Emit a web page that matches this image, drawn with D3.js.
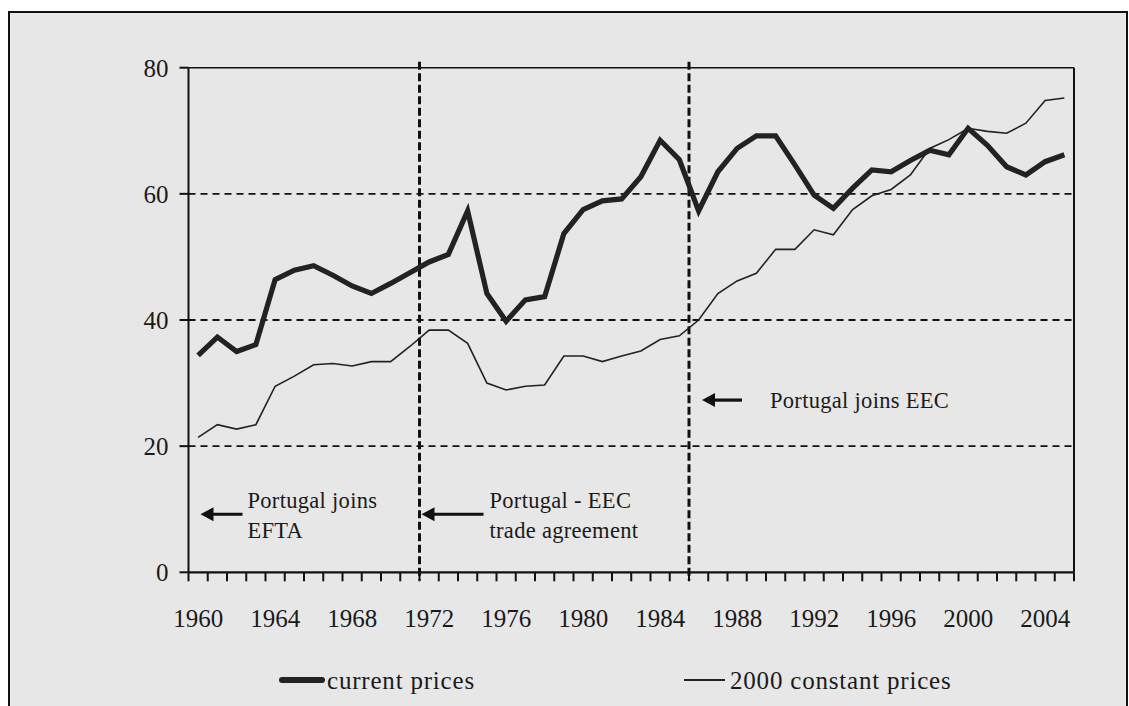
<!DOCTYPE html>
<html>
<head>
<meta charset="utf-8">
<script src="https://cdn.jsdelivr.net/npm/d3@7"></script>
<style>
  body { margin: 0; background: #fff; }
</style>
</head>
<body>
<div id="chart"></div>
<script>
// categories
var years = [1960, 1961, 1962, 1963, 1964, 1965, 1966, 1967, 1968, 1969,
             1970, 1971, 1972, 1973, 1974, 1975, 1976, 1977, 1978, 1979,
             1980, 1981, 1982, 1983, 1984, 1985, 1986, 1987, 1988, 1989,
             1990, 1991, 1992, 1993, 1994, 1995, 1996, 1997, 1998, 1999,
             2000, 2001, 2002, 2003, 2004, 2005];
// series values
var currentPrices = [34.4, 37.3, 35.0, 36.1, 46.4, 47.9, 48.6, 47.1, 45.4, 44.2,
                     45.8, 47.5, 49.2, 50.4, 57.3, 44.2, 39.8, 43.2, 43.7, 53.7,
                     57.5, 58.9, 59.2, 62.7, 68.5, 65.4, 57.3, 63.5, 67.2, 69.2,
                     69.2, 64.6, 59.8, 57.7, 60.9, 63.8, 63.5, 65.3, 66.9, 66.2,
                     70.4, 67.7, 64.3, 63.0, 65.1, 66.2];
var constantPrices = [21.4, 23.4, 22.7, 23.4, 29.5, 31.1, 32.9, 33.1, 32.7, 33.4,
                      33.4, 35.8, 38.4, 38.4, 36.3, 30.0, 28.9, 29.5, 29.7, 34.3,
                      34.3, 33.4, 34.3, 35.1, 36.9, 37.5, 40.0, 44.2, 46.2, 47.4,
                      51.2, 51.2, 54.3, 53.5, 57.5, 59.7, 60.7, 63.0, 67.2, 68.6,
                      70.4, 69.9, 69.6, 71.2, 74.8, 75.2];
// tick labels
var yTicks = [0, 20, 40, 60, 80];
var gridValues = [20, 40, 60];
var xLabelYears = [1960, 1964, 1968, 1972, 1976, 1980, 1984, 1988, 1992, 1996, 2000, 2004];
// events (vertical dashed lines at start of these years)
var eventYears = [1972, 1986];

var width = 1129, height = 706;
var margin = {top: 67.7, right: 55, bottom: 133.7, left: 188.5};
var plotW = width - margin.left - margin.right,
    plotH = height - margin.top - margin.bottom;
var serif = "'Liberation Serif', 'DejaVu Serif', serif";

var svg = d3.select("#chart").append("svg")
    .attr("width", width)
    .attr("height", height)
    .attr("font-family", serif);

// outer frame
svg.append("rect")
    .attr("x", 9).attr("y", 12)
    .attr("width", 1118).attr("height", 720)
    .attr("fill", "#e7e7e7")
    .attr("stroke", "#111")
    .attr("stroke-width", 2);

var g = svg.append("g")
    .attr("transform", "translate(" + margin.left + "," + margin.top + ")");

var x = d3.scaleBand().domain(years).range([0, plotW]).padding(0);
var y = d3.scaleLinear().domain([0, 80]).range([plotH, 0]);
function cx(d) { return x(d) + x.bandwidth() / 2; }

// horizontal dashed grid
g.selectAll(".grid")
    .data(gridValues)
  .enter().append("line")
    .attr("x1", 0).attr("x2", plotW)
    .attr("y1", function(d) { return y(d); })
    .attr("y2", function(d) { return y(d); })
    .attr("stroke", "#111")
    .attr("stroke-width", 1.8)
    .attr("stroke-dasharray", "7,5");

// plot box: top and right edges
g.append("line").attr("x1", 0).attr("x2", plotW).attr("y1", 0).attr("y2", 0)
    .attr("stroke", "#111").attr("stroke-width", 1.6);
g.append("line").attr("x1", plotW).attr("x2", plotW).attr("y1", 0).attr("y2", plotH)
    .attr("stroke", "#111").attr("stroke-width", 2);

// y axis
g.append("line").attr("x1", 0).attr("x2", 0).attr("y1", 0).attr("y2", plotH)
    .attr("stroke", "#111").attr("stroke-width", 2);
g.selectAll(".ytick")
    .data(yTicks)
  .enter().append("line")
    .attr("x1", -9).attr("x2", 0)
    .attr("y1", function(d) { return y(d); })
    .attr("y2", function(d) { return y(d); })
    .attr("stroke", "#111").attr("stroke-width", 2);
g.selectAll(".ylabel")
    .data(yTicks)
  .enter().append("text")
    .attr("x", -20)
    .attr("y", function(d) { return y(d); })
    .attr("dy", "0.36em")
    .attr("text-anchor", "end")
    .attr("font-size", 25)
    .attr("fill", "#1a1a1a")
    .text(function(d) { return d; });

// x axis
g.append("line").attr("x1", 0).attr("x2", plotW).attr("y1", plotH).attr("y2", plotH)
    .attr("stroke", "#111").attr("stroke-width", 2.2);
var tickPos = years.map(function(d) { return x(d); }).concat([plotW]);
g.selectAll(".xtick")
    .data(tickPos)
  .enter().append("line")
    .attr("x1", function(d) { return d; })
    .attr("x2", function(d) { return d; })
    .attr("y1", plotH).attr("y2", plotH + 9)
    .attr("stroke", "#111").attr("stroke-width", 2);
g.selectAll(".xlabel")
    .data(xLabelYears)
  .enter().append("text")
    .attr("x", function(d) { return cx(d); })
    .attr("y", plotH + 55)
    .attr("text-anchor", "middle")
    .attr("font-size", 25)
    .attr("fill", "#1a1a1a")
    .text(function(d) { return d; });

// event lines
g.selectAll(".event")
    .data(eventYears)
  .enter().append("line")
    .attr("x1", function(d) { return x(d); })
    .attr("x2", function(d) { return x(d); })
    .attr("y1", -6).attr("y2", plotH + 8)
    .attr("stroke", "#111")
    .attr("stroke-width", 3)
    .attr("stroke-dasharray", "8,3.5");

// series lines
var line = d3.line()
    .x(function(d, i) { return cx(years[i]); })
    .y(function(d) { return y(d); });

g.append("path")
    .datum(constantPrices)
    .attr("d", line)
    .attr("fill", "none")
    .attr("stroke", "#222")
    .attr("stroke-width", 1.6);

g.append("path")
    .datum(currentPrices)
    .attr("d", line)
    .attr("fill", "none")
    .attr("stroke", "#222")
    .attr("stroke-width", 5.2);

// annotations: arrow tip at (year boundary + dx), text lines to the right
var notes = [
    {year: 1960, dx: 12, len: 42, value: 9.2, lines: ["Portugal joins", "EFTA"], gap: 5},
    {year: 1972, dx: 2, len: 62, value: 9.2, lines: ["Portugal - EEC", "trade agreement"], gap: 6},
    {year: 1986, dx: 13, len: 40, value: 27.3, lines: ["Portugal joins EEC"], gap: 28}
];

var note = g.selectAll(".note")
    .data(notes)
  .enter().append("g")
    .attr("transform", function(d) {
        return "translate(" + (x(d.year) + d.dx) + "," + y(d.value) + ")"; });

note.append("line")
    .attr("x1", 10).attr("x2", function(d) { return d.len; })
    .attr("y1", 0).attr("y2", 0)
    .attr("stroke", "#111").attr("stroke-width", 3.2);
note.append("path")
    .attr("d", "M0,0L13,-7L13,7Z")
    .attr("fill", "#111");
note.each(function(d) {
    var sel = d3.select(this);
    var n = d.lines.length;
    d.lines.forEach(function(t, i) {
        sel.append("text")
            .attr("x", d.len + d.gap)
            .attr("y", n === 1 ? 0 : (i === 0 ? -14 : 15.5))
            .attr("dy", "0.35em")
            .attr("font-size", 22.5)
            .attr("letter-spacing", 0.3)
            .attr("fill", "#1a1a1a")
            .text(t);
    });
});

// legend
var legendItems = [
    {label: "current prices", w: 6, x1: 282, x2: 322},
    {label: "2000 constant prices", w: 2, x1: 684, x2: 725}
];
var legend = svg.append("g").selectAll(".legend")
    .data(legendItems)
  .enter().append("g");
legend.append("line")
    .attr("x1", function(d) { return d.x1; })
    .attr("x2", function(d) { return d.x2; })
    .attr("y1", 680).attr("y2", 680)
    .attr("stroke", "#222")
    .attr("stroke-width", function(d) { return d.w; })
    .attr("stroke-linecap", function(d) { return d.w > 3 ? "round" : "butt"; });
legend.append("text")
    .attr("x", function(d) { return d.x2 + 5; })
    .attr("y", 689)
    .attr("font-size", 25)
    .attr("letter-spacing", 0.8)
    .attr("fill", "#1a1a1a")
    .text(function(d) { return d.label; });
</script>
</body>
</html>
